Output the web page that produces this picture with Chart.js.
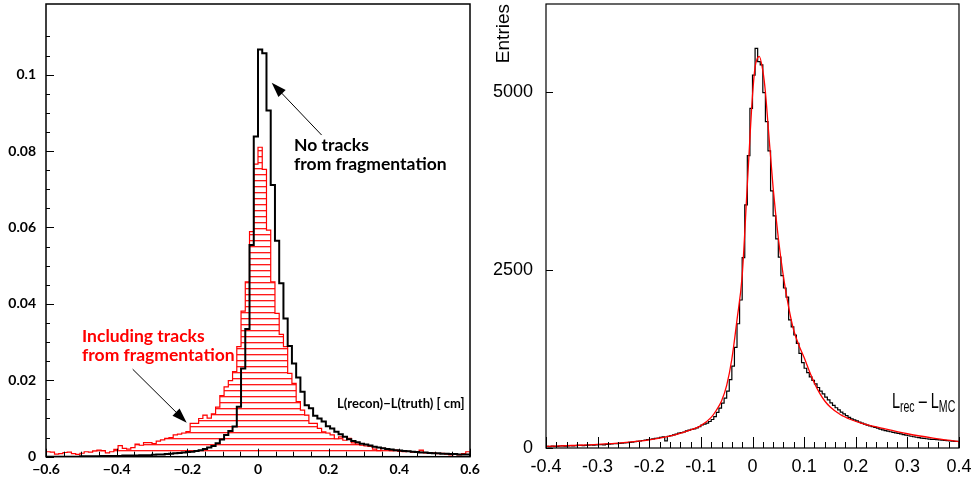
<!DOCTYPE html>
<html>
<head>
<meta charset="utf-8">
<script src="https://cdn.jsdelivr.net/npm/chart.js@4.4.1/dist/chart.umd.min.js"></script>
<style>
  html, body { margin: 0; padding: 0; background: #fff; }
  #wrap { position: relative; width: 971px; height: 478px; }
  canvas { position: absolute; top: 0; }
  #left { left: 0; }
  #right { left: 480px; }
</style>
</head>
<body>
<div id="wrap">
  <canvas id="left" width="480" height="478"></canvas>
  <canvas id="right" width="491" height="478"></canvas>
</div>
<script>
// ── left panel: L(recon)-L(truth), 100 bins on [-0.6, 0.6], normalised ──────
const leftRange = [-0.6, 0.6];
const noFragTracks = [
  0, 0, 0, 0, 0, 0, 0, 0, 0.0001, 0.0001,
  0.0001, 0.0001, 0.0001, 0.0002, 0.0002, 0.0002, 0.0002, 0.0002, 0.0003, 0.0003,
  0.0003, 0.0003, 0.0004, 0.0004, 0.0004, 0.0005, 0.0006, 0.0006, 0.0007, 0.0008,
  0.0009, 0.0010, 0.0011, 0.0012, 0.0013, 0.0015, 0.0017, 0.0020, 0.0024, 0.0028,
  0.0035, 0.0045, 0.0057, 0.0067, 0.0079, 0.0131, 0.0231, 0.0334, 0.0554, 0.0838,
  0.1066, 0.1056, 0.0906, 0.0711, 0.0565, 0.0454, 0.0362, 0.0290, 0.0244, 0.0207,
  0.0170, 0.0135, 0.0127, 0.0107, 0.0100, 0.0092, 0.0080, 0.0074, 0.0065, 0.0059,
  0.0052, 0.0046, 0.0041, 0.0038, 0.0034, 0.0032, 0.0029, 0.0026, 0.0024, 0.0022,
  0.0020, 0.0019, 0.0017, 0.0016, 0.0015, 0.0014, 0.0013, 0.0012, 0.0011, 0.0011,
  0.0010, 0.0009, 0.0009, 0.0008, 0.0008, 0.0007, 0.0007, 0.0006, 0.0006, 0.0006,
];
const withFragTracks = [
  0.0013, 0.0012, 0.0007, 0.0008, 0.0011, 0.0012, 0.0008, 0.0006, 0.0009, 0.0013,
  0.0012, 0.0015, 0.0017, 0.0016, 0.0010, 0.0013, 0.0019, 0.0029, 0.0022, 0.0020,
  0.0024, 0.0033, 0.0030, 0.0037, 0.0037, 0.0034, 0.0041, 0.0044, 0.0048, 0.0050,
  0.0057, 0.0059, 0.0062, 0.0066, 0.0087, 0.0087, 0.0100, 0.0109, 0.0101, 0.0112,
  0.0130, 0.0160, 0.0183, 0.0199, 0.0223, 0.0288, 0.0381, 0.0458, 0.0589, 0.0766,
  0.0810, 0.0752, 0.0593, 0.0458, 0.0375, 0.0320, 0.0288, 0.0218, 0.0192, 0.0144,
  0.0122, 0.0109, 0.0087, 0.0087, 0.0074, 0.0065, 0.0062, 0.0057, 0.0047, 0.0052,
  0.0043, 0.0048, 0.0036, 0.0033, 0.0030, 0.0028, 0.0027, 0.0020, 0.0016, 0.0022,
  0.0019, 0.0016, 0.0017, 0.0014, 0.0013, 0.0014, 0.0012, 0.0013, 0.0017, 0.0010,
  0.0011, 0.0010, 0.0008, 0.0009, 0.0007, 0.0005, 0.0006, 0.0005, 0.0008, 0.0013,
];
const leftXLabels = [-0.6, -0.4, -0.2, 0, 0.2, 0.4, 0.6];
const leftYLabels = [0, 0.02, 0.04, 0.06, 0.08, 0.1];

// ── right panel: L_rec - L_MC, 160 bins on [-0.4, 0.4], plus fitted curve ──
const rightRange = [-0.4, 0.4];
const entries = [
  23, 20, 25, 22, 24, 28, 30, 26, 28, 32,
  30, 33, 36, 37, 34, 38, 40, 42, 39, 44,
  46, 48, 45, 50, 55, 58, 61, 60, 65, 68,
  72, 75, 78, 82, 88, 92, 98, 105, 110, 117,
  122, 128, 135, 140, 150, 155, 100, 165, 175, 185,
  195, 210, 215, 225, 240, 250, 262, 270, 281, 300,
  323, 335, 350, 372, 400, 440, 500, 560, 630, 700,
  800, 960, 1150, 1414, 1745, 2079, 2675, 3414, 4106, 4770,
  5238, 5612, 5426, 5380, 4991, 4583, 4172, 3611, 3260, 2937,
  2680, 2420, 2247, 2120, 1800, 1700, 1587, 1470, 1330, 1200,
  1120, 1059, 1000, 950, 900, 850, 800, 760, 715, 675,
  635, 600, 565, 535, 505, 480, 455, 430, 410, 395,
  380, 365, 350, 335, 322, 310, 300, 290, 278, 265,
  255, 245, 236, 228, 220, 213, 205, 197, 188, 180,
  172, 165, 158, 151, 146, 140, 135, 130, 126, 122,
  120, 118, 115, 112, 108, 104, 100, 97, 94, 92,
];
const fitX = [-0.4, -0.35, -0.3, -0.25, -0.2, -0.15, -0.12, -0.1, -0.08, -0.07, -0.06, -0.05,
  -0.04, -0.03, -0.02, -0.01, 0, 0.005, 0.01, 0.013, 0.02, 0.025, 0.03, 0.04, 0.05, 0.06,
  0.07, 0.08, 0.09, 0.1, 0.11, 0.12, 0.13, 0.14, 0.15, 0.17, 0.19, 0.21, 0.25, 0.3, 0.35, 0.4];
const fitY = [22, 35, 50, 75, 115, 185, 255, 315, 430, 530, 660, 880,
  1250, 1800, 2420, 3700, 4950, 5350, 5480, 5500, 5300, 5000, 4550, 3650, 2950, 2400,
  1980, 1650, 1440, 1270, 1080, 910, 770, 660, 580, 470, 400, 350, 280, 200, 140, 90];
const rightXLabels = [-0.4, -0.3, -0.2, -0.1, 0, 0.1, 0.2, 0.3, 0.4];
const rightYLabels = [0, 2500, 5000];

// ── helpers ────────────────────────────────────────────────────────────────

// closed step outline of a histogram, starting and ending on the axis
function outline(range, vals) {
  const w = (range[1] - range[0]) / vals.length;
  const pts = [{ x: range[0], y: 0 }];
  vals.forEach((v, i) => {
    pts.push({ x: range[0] + i * w, y: v }, { x: range[0] + (i + 1) * w, y: v });
  });
  pts.push({ x: range[1], y: 0 });
  return pts;
}

const pick = (v, list) => list.find(m => Math.abs(m - v) < 1e-9);

// horizontal-line hatching for the red histogram
function hatch(ctx) {
  const c = document.createElement('canvas');
  c.width = 8; c.height = 6;
  const g = c.getContext('2d');
  g.fillStyle = 'rgba(255,0,0,0.9)';
  g.fillRect(0, 0, 8, 1);
  g.fillStyle = 'rgba(255,0,0,0.3)';
  g.fillRect(0, 1, 8, 1);
  return ctx.createPattern(c, 'repeat');
}

// inward tick marks plus the box round the plot area
const frameTicks = {
  id: 'frameTicks',
  afterDatasetsDraw(chart, args, o) {
    const { ctx, chartArea: a, scales: { x, y } } = chart;
    const onStep = (v, s) => Math.abs(v / s - Math.round(v / s)) < 1e-6;
    ctx.save();
    ctx.strokeStyle = '#000';
    ctx.lineWidth = 1;
    ctx.beginPath();
    x.ticks.forEach(t => {
      if (!onStep(t.value, o.xStep)) return;
      const px = Math.round(x.getPixelForValue(t.value)) + 0.5;
      const len = t.label ? o.xMajor : o.xMinor;
      ctx.moveTo(px, a.bottom);
      ctx.lineTo(px, a.bottom - len);
    });
    y.ticks.forEach(t => {
      if (!onStep(t.value, o.yStep)) return;
      const py = Math.round(y.getPixelForValue(t.value)) + 0.5;
      const len = t.label ? o.yMajor : o.yMinor;
      ctx.moveTo(a.left, py);
      ctx.lineTo(a.left + len, py);
    });
    ctx.stroke();
    ctx.lineWidth = o.frame;
    ctx.strokeRect(a.left, a.top, a.right - a.left, a.bottom - a.top);
    ctx.restore();
  },
};

// free text and arrows, placed in data coordinates
const notes = {
  id: 'notes',
  afterDraw(chart, args, o) {
    const { ctx, scales: { x, y } } = chart;
    ctx.save();
    ctx.textBaseline = 'alphabetic';
    (o.texts || []).forEach(t => {
      const sx = t.squeeze || 1;
      ctx.save();
      ctx.translate(x.getPixelForValue(t.x), y.getPixelForValue(t.y));
      ctx.scale(sx, 1);
      ctx.fillStyle = t.color || '#000';
      let px = 0;
      (t.parts || [{ text: t.text, font: t.font }]).forEach(p => {
        ctx.font = p.font;
        ctx.fillText(p.text, px, p.dy || 0);
        px += ctx.measureText(p.text).width;
      });
      ctx.restore();
    });
    (o.arrows || []).forEach(ar => {
      const x0 = x.getPixelForValue(ar.from[0]), y0 = y.getPixelForValue(ar.from[1]);
      const x1 = x.getPixelForValue(ar.to[0]), y1 = y.getPixelForValue(ar.to[1]);
      const ang = Math.atan2(y1 - y0, x1 - x0);
      const L = 15, W = 5;
      ctx.strokeStyle = '#000';
      ctx.fillStyle = '#000';
      ctx.lineWidth = 1;
      ctx.beginPath();
      ctx.moveTo(x0, y0);
      ctx.lineTo(x1 - Math.cos(ang) * L * 0.8, y1 - Math.sin(ang) * L * 0.8);
      ctx.stroke();
      ctx.beginPath();
      ctx.moveTo(x1, y1);
      ctx.lineTo(x1 - Math.cos(ang) * L - Math.sin(ang) * W, y1 - Math.sin(ang) * L + Math.cos(ang) * W);
      ctx.lineTo(x1 - Math.cos(ang) * L + Math.sin(ang) * W, y1 - Math.sin(ang) * L - Math.cos(ang) * W);
      ctx.closePath();
      ctx.fill();
    });
    ctx.restore();
  },
};

// pin the axis boxes so the plot area lands where it should
function fixBox(w, h) {
  return s => {
    if (w != null) s.width = w;
    if (h != null) s.height = h;
    s.paddingLeft = s.paddingRight = s.paddingTop = s.paddingBottom = 0;
  };
}

// ── left chart ─────────────────────────────────────────────────────────────

const gothic = { family: 'Lato, "DejaVu Sans", sans-serif', weight: 'bold', size: 14 };
const noteFont = 'bold 17.5px Lato, sans-serif';
const fmtLeft = m => (m < 0 ? '\u2212' : '') + String(Math.abs(m));
const leftCanvas = document.getElementById('left');

new Chart(leftCanvas, {
  type: 'scatter',
  data: {
    datasets: [
      {
        data: outline(leftRange, noFragTracks),
        showLine: true, borderColor: '#000', borderWidth: 2, pointRadius: 0,
        fill: false, order: 0,
      },
      {
        data: outline(leftRange, withFragTracks),
        showLine: true, borderColor: '#ff0000', borderWidth: 1.2, pointRadius: 0,
        fill: 'origin', backgroundColor: hatch(leftCanvas.getContext('2d')), order: 1,
      },
    ],
  },
  options: {
    responsive: false, animation: false, events: [],
    layout: { padding: { top: 4, right: 10, left: 0, bottom: 0 } },
    plugins: {
      legend: { display: false },
      tooltip: { enabled: false },
      frameTicks: { xStep: 0.05, yStep: 0.005, xMajor: 8, xMinor: 5, yMajor: 8, yMinor: 4, frame: 1.5 },
      notes: {
        texts: [
          { text: 'No tracks', x: 0.102, y: 0.0800, font: noteFont },
          { text: 'from fragmentation', x: 0.102, y: 0.0750, font: noteFont },
          { text: 'Including tracks', x: -0.498, y: 0.0300, font: noteFont, color: '#ff0000' },
          { text: 'from fragmentation', x: -0.498, y: 0.0250, font: noteFont, color: '#ff0000' },
          { text: 'L(recon)\u2212L(truth) [ cm]', x: 0.2236, y: 0.0127, font: 'bold 13px Lato, sans-serif' },
        ],
        arrows: [
          { from: [0.180, 0.0842], to: [0.0388, 0.0979] },
          { from: [-0.3547, 0.0229], to: [-0.2018, 0.0089] },
        ],
      },
    },
    scales: {
      x: {
        type: 'linear', min: leftRange[0], max: leftRange[1],
        afterFit: fixBox(null, 21.3),
        grid: { display: false, drawTicks: false },
        border: { display: false },
        ticks: {
          stepSize: 0.05, autoSkip: false, maxRotation: 0, padding: 4,
          color: '#000', font: gothic,
          callback: v => { const m = pick(v, leftXLabels); return m === undefined ? '' : fmtLeft(m); },
        },
      },
      y: {
        type: 'linear', min: 0, max: 0.1185,
        afterFit: fixBox(46, null),
        grid: { display: false, drawTicks: false },
        border: { display: false },
        ticks: {
          stepSize: 0.005, autoSkip: false, padding: 10,
          color: '#000', font: gothic,
          callback: v => { const m = pick(v, leftYLabels); return m === undefined ? '' : fmtLeft(m); },
        },
      },
    },
  },
  plugins: [frameTicks, notes],
});

// ── right chart ────────────────────────────────────────────────────────────

const helv = '"Liberation Sans", Arial, Helvetica, sans-serif';

new Chart(document.getElementById('right'), {
  type: 'scatter',
  data: {
    datasets: [
      {
        data: fitX.map((x, i) => ({ x, y: fitY[i] })),
        showLine: true, borderColor: '#ff0000', borderWidth: 1.3, pointRadius: 0,
        cubicInterpolationMode: 'monotone', fill: false, order: 0,
      },
      {
        data: outline(rightRange, entries),
        showLine: true, borderColor: '#000', borderWidth: 1.2, pointRadius: 0,
        fill: false, order: 1,
      },
    ],
  },
  options: {
    responsive: false, animation: false, events: [],
    layout: { padding: { top: 4, right: 12, left: 0, bottom: 0 } },
    plugins: {
      legend: { display: false },
      tooltip: { enabled: false },
      frameTicks: { xStep: 0.02, yStep: 2500, xMajor: 11, xMinor: 6, yMajor: 7, yMinor: 3, frame: 1.2 },
      notes: {
        texts: [
          {
            x: 0.270, y: 562, squeeze: 0.66,
            parts: [
              { text: 'L', font: '22px ' + helv },
              { text: 'rec', font: '16px ' + helv, dy: 4 },
              { text: ' \u2013 ', font: '22px ' + helv },
              { text: 'L', font: '22px ' + helv },
              { text: 'MC', font: '16px ' + helv, dy: 4 },
            ],
          },
        ],
      },
    },
    scales: {
      x: {
        type: 'linear', min: rightRange[0], max: rightRange[1],
        afterFit: fixBox(null, 30),
        grid: { display: false, drawTicks: false },
        border: { display: false },
        ticks: {
          stepSize: 0.02, autoSkip: false, maxRotation: 0, padding: 8,
          color: '#000', font: { family: helv, size: 18 },
          callback: v => { const m = pick(v, rightXLabels); return m === undefined ? '' : String(m); },
        },
      },
      y: {
        type: 'linear', min: 0, max: 6236,
        afterFit: fixBox(66, null),
        afterBuildTicks: s => { s.ticks = rightYLabels.map(value => ({ value })); },
        grid: { display: false, drawTicks: false },
        border: { display: false },
        title: {
          display: true, text: 'Entries', align: 'end', color: '#000',
          font: { family: helv, size: 19 }, padding: { top: 12 },
        },
        ticks: {
          autoSkip: false, padding: 13,
          color: '#000', font: { family: helv, size: 18 },
          callback: v => String(v),
        },
      },
    },
  },
  plugins: [frameTicks, notes],
});
</script>
</body>
</html>
